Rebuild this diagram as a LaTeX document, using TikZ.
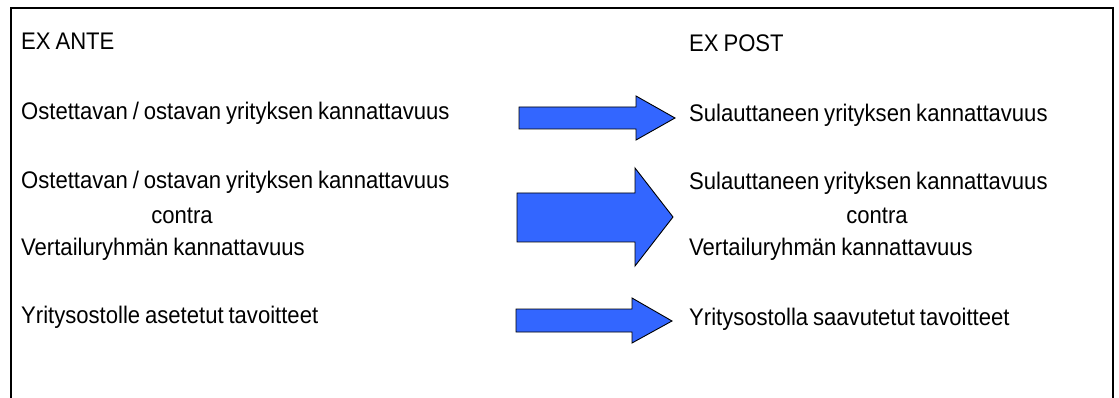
\documentclass[tikz,border=0pt]{standalone}
\usepackage{fontspec}
\setmainfont{Liberation Sans}[FakeStretch=0.92,WordSpace=0.8]
\definecolor{arrowblue}{RGB}{51,102,255}
\begin{document}
\begin{tikzpicture}[x=1pt,y=-1pt,
  lbl/.style={anchor=base west, inner sep=0pt, font=\fontsize{24}{28}\selectfont},
  mid/.style={anchor=base, inner sep=0pt, font=\fontsize{24}{28}\selectfont},
  blockarrow/.style={draw=black, line width=0.9pt, fill=arrowblue, line join=miter},
  frame/.style={draw=black, line width=1.5pt}]
\useasboundingbox (0,0) rectangle (1119,398);
\draw[frame] (11,410) -- (11,8) -- (1113,8) -- (1113,410);
% left column
\node[lbl] (exante) at (21,50) {EX ANTE};
\node[lbl] (l1) at (21,120) {Ostettavan / ostavan yrityksen kannattavuus};
\node[lbl] (l2a) at (21,189) {Ostettavan / ostavan yrityksen kannattavuus};
\node[mid] (l2b) at (182,224) {contra};
\node[lbl] (l2c) at (21,255) {Vertailuryhmän kannattavuus};
\node[lbl] (l3) at (21,323) {Yritysostolle asetetut tavoitteet};
% right column
\node[lbl] (expost) at (689,52) {EX POST};
\node[lbl] (r1) at (689,122) {Sulauttaneen yrityksen kannattavuus};
\node[lbl] (r2a) at (689,190) {Sulauttaneen yrityksen kannattavuus};
\node[mid] (r2b) at (877,223) {contra};
\node[lbl] (r2c) at (689,255) {Vertailuryhmän kannattavuus};
\node[lbl] (r3) at (689,325) {Yritysostolla saavutetut tavoitteet};
% arrows
\draw[blockarrow] (519,107) -- (636,107) -- (636,96) -- (675,118) -- (636,140) -- (636,129) -- (519,129) -- cycle;
\draw[blockarrow] (517,193) -- (635,193) -- (635,168) -- (673,217) -- (635,266) -- (635,242) -- (517,242) -- cycle;
\draw[blockarrow] (516,309) -- (632,309) -- (632,298) -- (672,321) -- (632,343) -- (632,332) -- (516,332) -- cycle;
\end{tikzpicture}
\end{document}
